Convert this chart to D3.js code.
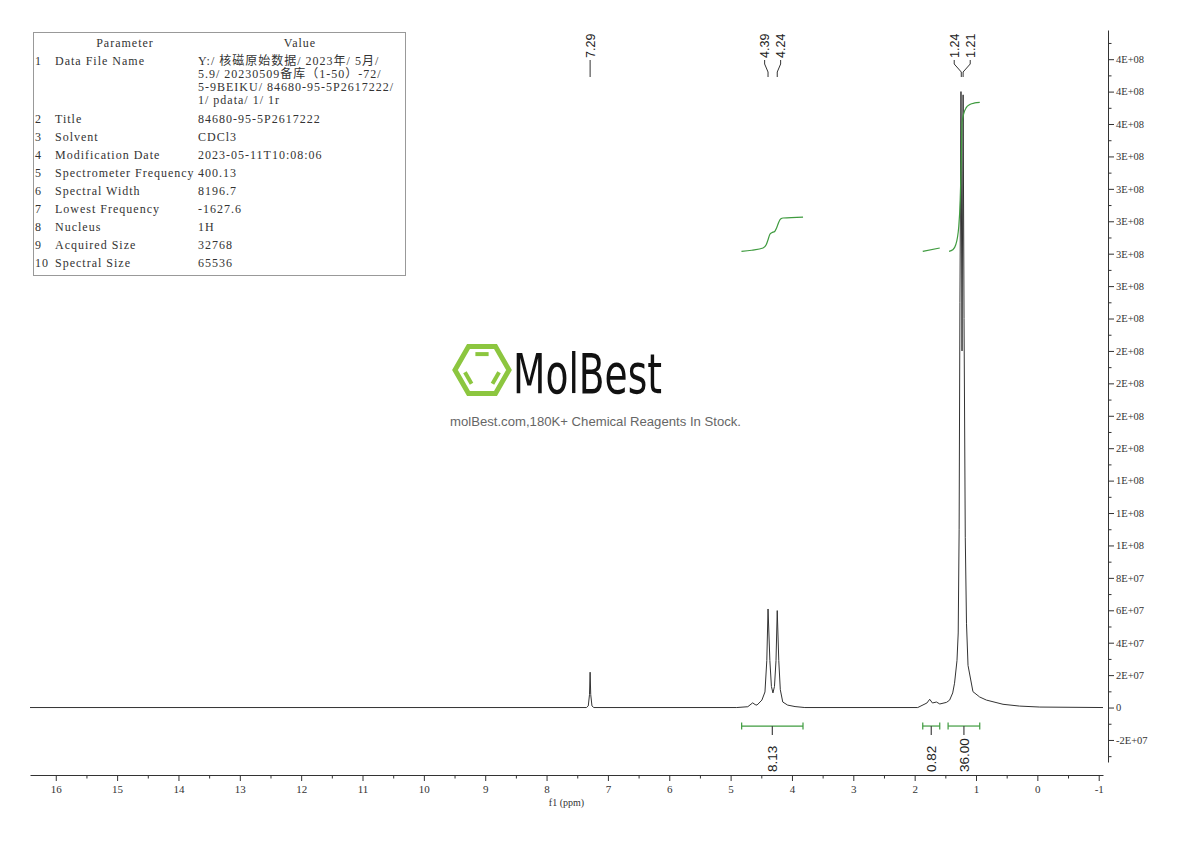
<!DOCTYPE html>
<html>
<head>
<meta charset="utf-8">
<script src="https://cdn.jsdelivr.net/npm/d3@7"></script>
<style>
  body { margin: 0; background: #fff; }
  svg { display: block; }
</style>
</head>
<body>
<svg id="chart" width="1190" height="841"></svg>
<script>
// ---- data ----
const paramNames = ["Data File Name", "Title", "Solvent", "Modification Date", "Spectrometer Frequency",
  "Spectral Width", "Lowest Frequency", "Nucleus", "Acquired Size", "Spectral Size"];
const paramValues = [
  ["Y:/ 核磁原始数据/ 2023年/ 5月/", "5.9/ 20230509备库（1-50）-72/", "5-9BEIKU/ 84680-95-5P2617222/", "1/ pdata/ 1/ 1r"],
  ["84680-95-5P2617222"], ["CDCl3"], ["2023-05-11T10:08:06"], ["400.13"],
  ["8196.7"], ["-1627.6"], ["1H"], ["32768"], ["65536"]
];

const xTicks = [16, 15, 14, 13, 12, 11, 10, 9, 8, 7, 6, 5, 4, 3, 2, 1, 0, -1];
const yTicks = [-2e7, 0, 2e7, 4e7, 6e7, 8e7, 1e8, 1.2e8, 1.4e8, 1.6e8, 1.8e8, 2e8, 2.2e8, 2.4e8,
  2.6e8, 2.8e8, 3e8, 3.2e8, 3.4e8, 3.6e8, 3.8e8, 4e8];

// spectrum trace (ppm, intensity)
const specPpm = [16.42, 7.35, 7.32, 7.30, 7.29, 7.28, 7.26, 7.23,
  4.90, 4.72, 4.64, 4.60, 4.57, 4.49, 4.44, 4.41, 4.39, 4.36, 4.335, 4.31, 4.285, 4.26, 4.24, 4.215, 4.19, 4.15, 4.07, 3.95, 3.79,
  1.95, 1.80, 1.755, 1.71, 1.645, 1.59, 1.48, 1.43, 1.38, 1.35, 1.31, 1.29, 1.275, 1.262, 1.245, 1.228, 1.21, 1.195, 1.175, 1.155,
  1.13, 1.05, 0.94, 0.83, 0.56, 0.29, -0.04, -1.07];
const specInt = [0, 0, 1.0e6, 8e6, 2.18e7, 8e6, 1.0e6, 0,
  0, 0.5e6, 2.9e6, 1.8e6, 1.5e6, 4.6e6, 9.6e6, 2.9e7, 6.08e7, 2.9e7, 1.3e7, 9.0e6, 1.3e7, 2.9e7, 5.98e7, 2.9e7, 1.1e7, 3.4e6, 1.5e6, 0.6e6, 0,
  0, 2.8e6, 5.1e6, 2.8e6, 3.4e6, 2.2e6, 3.2e6, 4.6e6, 9e6, 1.5e7, 2.9e7, 4.6e7, 1.1e8, 2.5e8, 3.80e8, 2.2e8, 3.78e8, 2.4e8, 1.05e8, 5.2e7,
  2.6e7, 9.8e6, 6.5e6, 4.6e6, 2e6, 0.9e6, 0.3e6, 0];

const peakGroups = [[7.29], [4.39, 4.24], [1.24, 1.21]];

const integralRanges = [[4.82, 3.82], [1.868, 1.591], [1.455, 0.939]];
const integralLabels = ["8.13", "0.82", "36.00"];
const integralCurvePpm = [
  [4.823, 4.655, 4.471, 4.42, 4.39, 4.363, 4.33, 4.281, 4.249, 4.21, 4.18, 4.145, 3.819],
  [1.868, 1.591],
  [1.439, 1.379, 1.33, 1.281, 1.257, 1.24, 1.228, 1.2, 1.159, 1.102, 1.02, 0.939]
];
const integralCurveVal = [
  [2.814e8, 2.821e8, 2.835e8, 2.855e8, 2.886e8, 2.917e8, 2.929e8, 2.937e8, 2.96e8, 2.999e8, 3.015e8, 3.02e8, 3.026e8],
  [2.814e8, 2.835e8],
  [2.814e8, 2.824e8, 2.855e8, 2.968e8, 3.133e8, 3.38e8, 3.608e8, 3.664e8, 3.701e8, 3.72e8, 3.73e8, 3.733e8]
];

// ---- setup ----
const svg = d3.select("#chart");
const serif = "'Liberation Serif', 'DejaVu Serif', 'Noto Sans CJK SC', serif";
const sans = "'Liberation Sans', Arial, sans-serif";
const green = "#3f9b3f";

const x = d3.scaleLinear().domain([16.42, -1.07]).range([30, 1103]);
const y = d3.scaleLinear().domain([-3.36e7, 4.18e8]).range([762, 30]);

function fmtE(v) {
  if (v === 0) return "0";
  let e = Math.floor(Math.log10(Math.abs(v)));
  let m = Math.round(v / Math.pow(10, e));
  if (Math.abs(m) === 10) { m = m / 10; e += 1; }
  return m + "E+" + String(e).padStart(2, "0");
}

// ---- parameter table ----
const table = svg.append("g");
table.append("rect")
  .attr("x", 33.5).attr("y", 32.5).attr("width", 372).attr("height", 243)
  .attr("fill", "none").attr("stroke", "#999");

const tt = table.append("g")
  .attr("font-family", serif).attr("font-size", 12)
  .attr("letter-spacing", "1px").attr("fill", "#333")
  .attr("dominant-baseline", "middle");

tt.append("text").attr("x", 125).attr("y", 44).attr("text-anchor", "middle").text("Parameter");
tt.append("text").attr("x", 300).attr("y", 44).attr("text-anchor", "middle").text("Value");

let rowY = 62;
paramNames.forEach((name, i) => {
  tt.append("text").attr("x", 35).attr("y", rowY).text(i + 1);
  tt.append("text").attr("x", 55).attr("y", rowY).text(name);
  paramValues[i].forEach((line, j) => {
    tt.append("text").attr("x", 198).attr("y", rowY + j * 13).text(line);
  });
  rowY += 18 + (paramValues[i].length - 1) * 13.3;
});

// ---- watermark logo ----
const logo = svg.append("g");
const cx = 482, cy = 370, R = 27;
const hex = d3.range(6).map(k => [cx + R * Math.cos(k * Math.PI / 3), cy + R * Math.sin(k * Math.PI / 3)]);
logo.append("path")
  .attr("d", d3.line()(hex) + "Z")
  .attr("fill", "none").attr("stroke", "#8cc63f").attr("stroke-width", 5).attr("stroke-linejoin", "miter");
[[4, 5], [2, 3], [0, 1]].forEach(([a, b]) => {
  const s = 0.68;
  const p = hex[a].map((v, k) => (k ? cy : cx) + (v - (k ? cy : cx)) * s);
  const q = hex[b].map((v, k) => (k ? cy : cx) + (v - (k ? cy : cx)) * s);
  const t = 0.14;
  logo.append("line")
    .attr("x1", p[0] + (q[0] - p[0]) * t).attr("y1", p[1] + (q[1] - p[1]) * t)
    .attr("x2", q[0] - (q[0] - p[0]) * t).attr("y2", q[1] - (q[1] - p[1]) * t)
    .attr("stroke", "#8cc63f").attr("stroke-width", 4);
});
logo.append("text")
  .attr("x", 513).attr("y", 393)
  .attr("font-family", "'DejaVu Sans Condensed', 'Liberation Sans Narrow', 'Liberation Sans', sans-serif")
  .attr("font-size", 56).attr("fill", "#111")
  .attr("textLength", 149).attr("lengthAdjust", "spacingAndGlyphs")
  .text("MolBest");
logo.append("text")
  .attr("x", 450).attr("y", 426)
  .attr("font-family", sans).attr("font-size", 12.5).attr("fill", "#666")
  .attr("textLength", 291).attr("lengthAdjust", "spacingAndGlyphs")
  .text("molBest.com,180K+ Chemical Reagents In Stock.");

// ---- axes ----
const xMinor = xTicks.slice(0, -1).map(d => d - 0.5);
svg.append("g")
  .attr("transform", "translate(0,775)")
  .call(d3.axisBottom(x).tickValues(xMinor).tickSize(3.5).tickSizeOuter(0).tickFormat(() => ""))
  .call(g => g.select(".domain").remove())
  .attr("color", "#333");
svg.append("g")
  .attr("transform", "translate(0,775)")
  .call(d3.axisBottom(x).tickValues(xTicks).tickSize(6).tickPadding(4).tickSizeOuter(0).tickFormat(d => String(d)))
  .attr("font-family", serif).attr("font-size", 11)
  .attr("color", "#333");
svg.append("text")
  .attr("x", (x.range()[0] + x.range()[1]) / 2).attr("y", 806)
  .attr("text-anchor", "middle")
  .attr("font-family", serif).attr("font-size", 10).attr("fill", "#333")
  .text("f1 (ppm)");

const yMinor = [-3e7].concat(yTicks.map(d => d + 1e7)).filter(d => d < y.domain()[1]);
svg.append("g")
  .attr("transform", "translate(1108,0)")
  .call(d3.axisRight(y).tickValues(yMinor).tickSize(3.5).tickSizeOuter(0).tickFormat(() => ""))
  .call(g => g.select(".domain").remove())
  .attr("color", "#333");
svg.append("g")
  .attr("transform", "translate(1108,0)")
  .call(d3.axisRight(y).tickValues(yTicks).tickSize(6).tickPadding(2).tickSizeOuter(0).tickFormat(fmtE))
  .attr("font-family", serif).attr("font-size", 10.5)
  .attr("color", "#333");

// ---- spectrum ----
const spec = specPpm.map((p, i) => [p, specInt[i]]);
svg.append("path")
  .datum(spec)
  .attr("fill", "none").attr("stroke", "#333").attr("stroke-width", 1)
  .attr("stroke-linejoin", "round")
  .attr("d", d3.line().x(d => x(d[0])).y(d => y(d[1])));

// ---- integral curves ----
integralCurvePpm.forEach((ppms, i) => {
  const pts = ppms.map((p, j) => [p, integralCurveVal[i][j]]);
  svg.append("path")
    .datum(pts)
    .attr("fill", "none").attr("stroke", green).attr("stroke-width", 1.2)
    .attr("d", d3.line().x(d => x(d[0])).y(d => y(d[1])).curve(d3.curveMonotoneX));
});

// ---- integral bars and values ----
const barY = y(0) + 18.5;
integralRanges.forEach(([a, b], i) => {
  const g = svg.append("g").attr("stroke", green).attr("stroke-width", 1.2);
  const xa = x(a), xb = x(b), xm = x((a + b) / 2);
  g.append("line").attr("x1", xa).attr("x2", xb).attr("y1", barY).attr("y2", barY);
  g.append("line").attr("x1", xa).attr("x2", xa).attr("y1", barY - 3.5).attr("y2", barY + 3.5);
  g.append("line").attr("x1", xb).attr("x2", xb).attr("y1", barY - 3.5).attr("y2", barY + 3.5);
  g.append("line").attr("x1", xm).attr("x2", xm).attr("y1", barY).attr("y2", barY + 9)
    .attr("stroke", "#444");
  svg.append("text")
    .attr("transform", `translate(${xm},772) rotate(-90)`)
    .attr("dy", "0.35em")
    .attr("font-family", sans).attr("font-size", 13.5).attr("fill", "#222")
    .text(integralLabels[i]);
});

// ---- peak labels ----
peakGroups.forEach(group => {
  const xs = group.map(p => x(p));
  const center = d3.mean(xs);
  group.forEach((p, i) => {
    const lx = center + (i - (group.length - 1) / 2) * 16;
    svg.append("text")
      .attr("transform", `translate(${lx},58) rotate(-90)`)
      .attr("dy", "0.36em")
      .attr("font-family", sans).attr("font-size", 12.5).attr("fill", "#222")
      .text(p.toFixed(2));
    svg.append("path")
      .attr("d", `M${lx},60 V64 L${xs[i]},72 V77`)
      .attr("fill", "none").attr("stroke", "#333").attr("stroke-width", 1);
  });
});
</script>
</body>
</html>
